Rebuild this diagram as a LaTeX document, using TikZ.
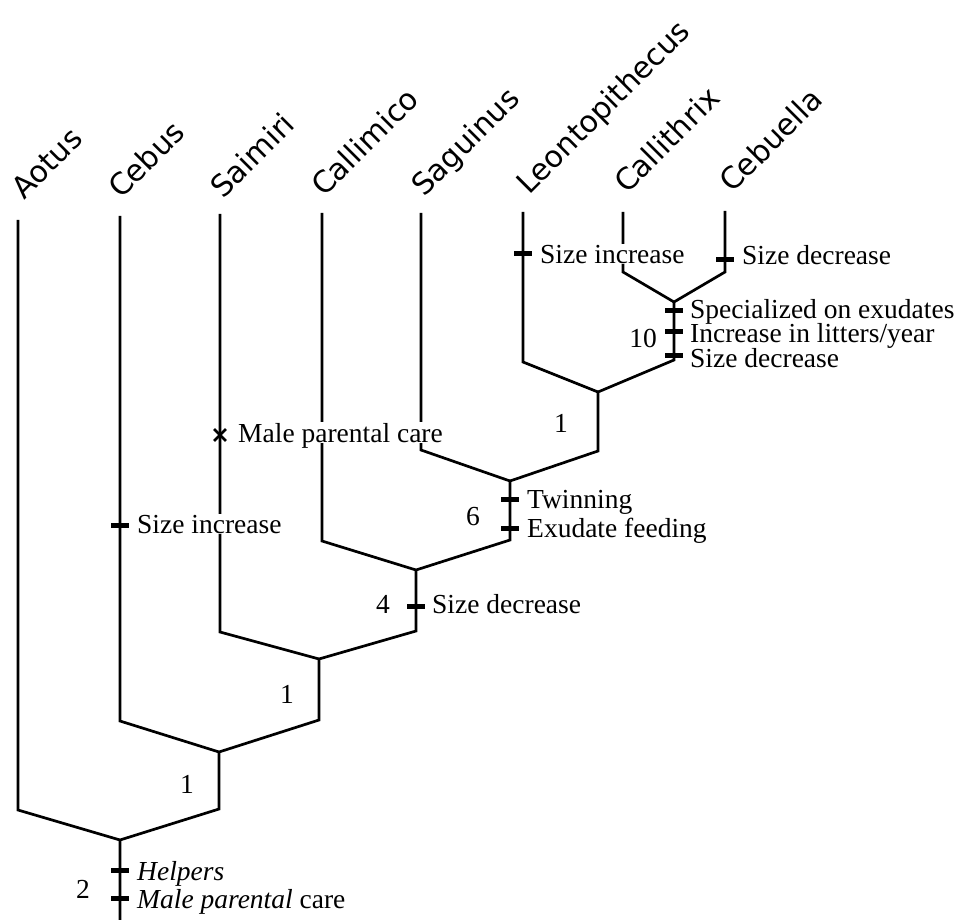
\documentclass[tikz,border=0pt]{standalone}
\usepackage{fontspec}
\setmainfont{Liberation Serif}
\newfontfamily\taxafont{DejaVu Sans}
\usetikzlibrary{shapes.misc}
\begin{document}
\begin{tikzpicture}[x=1pt,y=-1pt,
  branch/.style={line width=2.7pt, line join=miter},
  tickmark/.style={fill=black, inner sep=0pt, minimum width=18pt, minimum height=5pt},
  lossmark/.style={cross out, draw, line width=2.8pt, minimum size=9pt, inner sep=0pt},
  taxon/.style={rotate=45, anchor=base west, inner sep=0pt, font=\taxafont\fontsize{30}{30}\selectfont},
  note/.style={anchor=base west, inner sep=0pt, font=\fontsize{27.5}{30}\selectfont},
  masked/.style={note, fill=white, inner ysep=1pt, text depth=0pt},
  count/.style={anchor=base, inner sep=0pt, font=\fontsize{27.5}{30}\selectfont}]
\useasboundingbox (0,0) rectangle (961,920);

% taxon tips
\coordinate (tA) at (18,220);
\coordinate (tB) at (120,216);
\coordinate (tC) at (220,214);
\coordinate (tD) at (322,213);
\coordinate (tE) at (421,213);
\coordinate (tF) at (523,212);
\coordinate (tG) at (623,212);
\coordinate (tH) at (725,211);
% left corners
\coordinate (lA) at (18,810);
\coordinate (lB) at (120,721);
\coordinate (lC) at (220,632);
\coordinate (lD) at (322,541);
\coordinate (lE) at (421,450);
\coordinate (lF) at (523,362);
\coordinate (lG) at (623,272);
% spine
\coordinate (root) at (120,920);
\coordinate (v1) at (120,840);
\coordinate (v1r) at (219,809);
\coordinate (v2) at (219,752);
\coordinate (v2r) at (319,720);
\coordinate (v3) at (319,659);
\coordinate (v3r) at (416,631);
\coordinate (v4) at (416,570);
\coordinate (v4r) at (510,540);
\coordinate (v5) at (510,481);
\coordinate (v5r) at (598,451);
\coordinate (v6) at (598,392);
\coordinate (v6r) at (674,360);
\coordinate (v7) at (674,302);
\coordinate (v7r) at (725,272);

\draw[branch] (root) -- (v1) -- (v1r) -- (v2) -- (v2r) -- (v3) -- (v3r) -- (v4) -- (v4r) -- (v5) -- (v5r) -- (v6) -- (v6r) -- (v7) -- (v7r) -- (tH);
\draw[branch] (tA) -- (lA) -- (v1);
\draw[branch] (tB) -- (lB) -- (v2);
\draw[branch] (tC) -- (lC) -- (v3);
\draw[branch] (tD) -- (lD) -- (v4);
\draw[branch] (tE) -- (lE) -- (v5);
\draw[branch] (tF) -- (lF) -- (v6);
\draw[branch] (tG) -- (lG) -- (v7);

% taxon labels
\node[taxon] (nA) at (24,201) {Aotus};
\node[taxon] (nB) at (121,200) {Cebus};
\node[taxon] (nC) at (223,200) {Saimiri};
\node[taxon] (nD) at (324,198) {Callimico};
\node[taxon] (nE) at (424,198) {Saguinus};
\node[taxon] (nF) at (529,196) {Leontopithecus};
\node[taxon] (nG) at (627,195) {Callithrix};
\node[taxon] (nH) at (732,194) {Cebuella};

% character changes
\node[tickmark] (kF) at (523,253) {};
\node[masked] (sF) at (540,263) {Size increase};
\node[tickmark] (kH) at (725,259) {};
\node[note] (sH) at (742,264) {Size decrease};

\node[tickmark] (k7a) at (674,310) {};
\node[tickmark] (k7b) at (674,331) {};
\node[tickmark] (k7c) at (674,355) {};
\node[note] (s7a) at (690,318) {Specialized on exudates};
\node[note] (s7b) at (690,342) {Increase in litters/year};
\node[note] (s7c) at (690,367) {Size decrease};
\node[count] (c7) at (643,347) {10};

\node[count] (c6) at (561,432) {1};

\node[lossmark] (xC) at (220,435) {};
\node[masked] (sC) at (238,442) {Male parental care};

\node[tickmark] (kB) at (120,525) {};
\node[masked] (sB) at (137,533) {Size increase};

\node[tickmark] (k5a) at (510,499) {};
\node[tickmark] (k5b) at (510,528) {};
\node[note] (s5a) at (527,508) {Twinning};
\node[note] (s5b) at (527,537) {Exudate feeding};
\node[count] (c5) at (473,525) {6};

\node[tickmark] (k4) at (416,606) {};
\node[note] (s4) at (432,613) {Size decrease};
\node[count] (c4) at (383,613) {4};

\node[count] (c3) at (287,703) {1};
\node[count] (c2) at (187,793) {1};

\node[tickmark] (k1a) at (120,870) {};
\node[tickmark] (k1b) at (120,898) {};
\node[note] (s1a) at (137,880) {\itshape Helpers};
\node[note] (s1b) at (137,908) {\itshape Male parental \upshape care};
\node[count] (c1) at (83,898) {2};
\end{tikzpicture}
\end{document}
